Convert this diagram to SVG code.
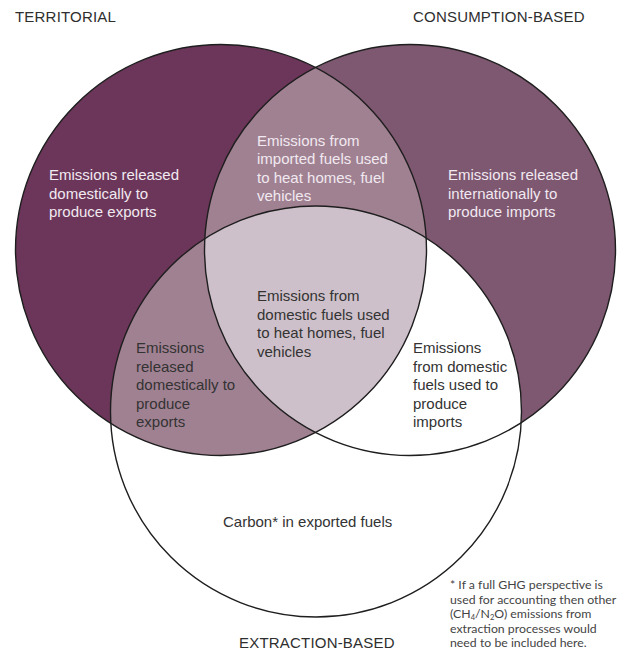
<svg xmlns="http://www.w3.org/2000/svg" width="618" height="652" viewBox="0 0 618 652">
  <style>
    .lbl { font-family: "Liberation Sans", Arial, sans-serif; font-size: 15px; fill: #333333; }
    .light { fill: #F1E9F0; }
    .title { font-family: "Liberation Sans", Arial, sans-serif; font-size: 15px; fill: #2e2e2e; letter-spacing: 0.2px; }
    .note { font-family: Lato, "Noto Sans", sans-serif; font-size: 12.3px; fill: #444444; }
    .ring { fill: none; stroke: #1e1e1e; stroke-width: 1.4; }
  </style>
  <defs>
    <circle id="cL" cx="221" cy="250" r="205.5"/>
    <circle id="cR" cx="410" cy="250" r="205.5"/>
    <circle id="cB" cx="316" cy="411.5" r="205.5"/>
    <clipPath id="clipL"><use href="#cL"/></clipPath>
    <clipPath id="clipR"><use href="#cR"/></clipPath>
    <clipPath id="clipB"><use href="#cB"/></clipPath>
  </defs>
  <rect width="618" height="652" fill="#ffffff"/>

  <g id="fills">
    <use href="#cL" fill="#6B3659"/>
    <use href="#cR" fill="#7E5770"/>
    <use href="#cR" fill="#A08192" clip-path="url(#clipL)"/>
    <use href="#cB" fill="#ffffff" clip-path="url(#clipR)"/>
    <use href="#cB" fill="#A08192" clip-path="url(#clipL)"/>
    <g clip-path="url(#clipL)">
      <use href="#cB" fill="#CEC0CA" clip-path="url(#clipR)"/>
    </g>
  </g>

  <g id="outlines">
    <use href="#cL" class="ring"/>
    <use href="#cR" class="ring"/>
    <use href="#cB" class="ring"/>
  </g>

  <g id="titles">
    <text class="title" x="15" y="22">TERRITORIAL</text>
    <text class="title" x="413" y="22">CONSUMPTION-BASED</text>
    <text class="title" x="239" y="648">EXTRACTION-BASED</text>
  </g>

  <g id="territorial-only">
    <text class="lbl light" x="49"><tspan x="49" y="180">Emissions released</tspan><tspan x="49" y="198.5">domestically to</tspan><tspan x="49" y="217">produce exports</tspan></text>
  </g>

  <g id="consumption-only">
    <text class="lbl light" x="448"><tspan x="448" y="180">Emissions released</tspan><tspan x="448" y="198.5">internationally to</tspan><tspan x="448" y="217">produce imports</tspan></text>
  </g>

  <g id="territorial-consumption">
    <text class="lbl light" x="257"><tspan x="257" y="145.5">Emissions from</tspan><tspan x="257" y="164">imported fuels used</tspan><tspan x="257" y="182.5">to heat homes, fuel</tspan><tspan x="257" y="201">vehicles</tspan></text>
  </g>

  <g id="all-three">
    <text class="lbl" x="257"><tspan x="257" y="301">Emissions from</tspan><tspan x="257" y="319.5">domestic fuels used</tspan><tspan x="257" y="338">to heat homes, fuel</tspan><tspan x="257" y="356.5">vehicles</tspan></text>
  </g>

  <g id="territorial-extraction">
    <text class="lbl" x="136"><tspan x="136" y="353">Emissions</tspan><tspan x="136" y="371.5">released</tspan><tspan x="136" y="390">domestically to</tspan><tspan x="136" y="408.5">produce</tspan><tspan x="136" y="427">exports</tspan></text>
  </g>

  <g id="consumption-extraction">
    <text class="lbl" x="413"><tspan x="413" y="353">Emissions</tspan><tspan x="413" y="371.5">from domestic</tspan><tspan x="413" y="390">fuels used to</tspan><tspan x="413" y="408.5">produce</tspan><tspan x="413" y="427">imports</tspan></text>
  </g>

  <g id="extraction-only">
    <text class="lbl" x="223" y="527">Carbon* in exported fuels</text>
  </g>

  <g id="footnote">
    <text class="note" x="450" y="589">* If a full GHG perspective is</text>
    <text class="note" x="450" y="603.5">used for accounting then other</text>
    <text class="note" x="450" y="618">(CH<tspan font-size="7.5" dy="2">4</tspan><tspan dy="-2">/N</tspan><tspan font-size="7.5" dy="2">2</tspan><tspan dy="-2">O) emissions from</tspan></text>
    <text class="note" x="450" y="632.5">extraction processes would</text>
    <text class="note" x="450" y="647">need to be included here.</text>
  </g>
</svg>
